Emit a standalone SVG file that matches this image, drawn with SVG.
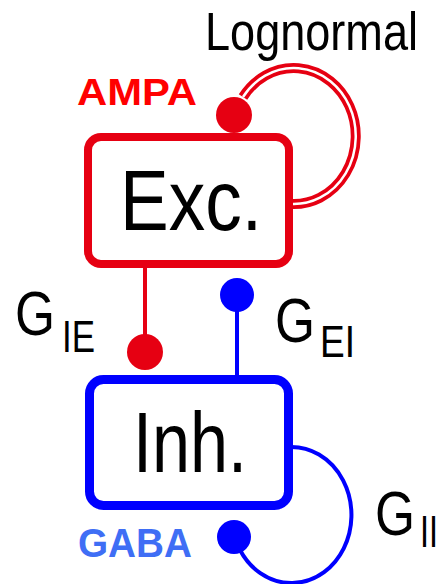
<svg xmlns="http://www.w3.org/2000/svg" width="441" height="584" viewBox="0 0 441 584">
<style>
.lbl{font-family:"Liberation Sans",Arial,sans-serif;fill:#000}
.bold{font-family:"Liberation Sans",Arial,sans-serif;font-weight:bold}
.red{fill:#e60012}
.blue{fill:#0000ff}
</style>
<rect width="441" height="584" fill="#fff"/>
<g id="connectors">
  <!-- Exc self loop (double line) -->
  <path d="M 291 204 A 62 68 0 1 0 243 97" fill="none" stroke="#e60012" stroke-width="10"/>
  <path d="M 291 204 A 62 68 0 1 0 243 97" fill="none" stroke="#fff" stroke-width="2.5"/>
  <circle class="red" cx="234" cy="115" r="18"/>
  <!-- Exc to Inh -->
  <line x1="145" y1="266" x2="145" y2="350" stroke="#e60012" stroke-width="4"/>
  <circle class="red" cx="145" cy="352" r="18"/>
  <!-- Inh to Exc -->
  <line x1="237" y1="300" x2="237" y2="378" stroke="#0000ff" stroke-width="4"/>
  <circle class="blue" cx="237" cy="295" r="17"/>
  <!-- Inh self loop -->
  <path d="M 291 447 A 60 68 0 1 1 240 550" fill="none" stroke="#0000ff" stroke-width="4"/>
  <circle class="blue" cx="234" cy="537" r="17"/>
</g>
<g id="exc">
  <rect x="88" y="137" width="201" height="127" rx="13" fill="#fff" stroke="#e60012" stroke-width="8"/>
  <text class="lbl" x="120" y="230" font-size="86" textLength="142" lengthAdjust="spacingAndGlyphs">Exc.</text>
</g>
<g id="inh">
  <rect x="89.5" y="379.5" width="199" height="126" rx="14" fill="#fff" stroke="#0000ff" stroke-width="9"/>
  <text class="lbl" x="133" y="472" font-size="86" textLength="114" lengthAdjust="spacingAndGlyphs">Inh.</text>
</g>
<g id="labels">
  <text class="lbl" x="205" y="50" font-size="53" textLength="213" lengthAdjust="spacingAndGlyphs">Lognormal</text>
  <text class="bold" x="77" y="105" font-size="37" fill="#ff0000" textLength="120" lengthAdjust="spacingAndGlyphs">AMPA</text>
  <text class="bold" x="78" y="557" font-size="40" fill="#3f6ef5" textLength="114" lengthAdjust="spacingAndGlyphs">GABA</text>
  <text class="lbl" x="15" y="335" font-size="63" textLength="40" lengthAdjust="spacingAndGlyphs">G</text>
  <text class="lbl" x="62" y="352" font-size="44" textLength="33" lengthAdjust="spacingAndGlyphs">IE</text>
  <text class="lbl" x="275" y="342" font-size="63" textLength="40" lengthAdjust="spacingAndGlyphs">G</text>
  <text class="lbl" x="320" y="357" font-size="44" textLength="35" lengthAdjust="spacingAndGlyphs">EI</text>
  <text class="lbl" x="375" y="535" font-size="63" textLength="40" lengthAdjust="spacingAndGlyphs">G</text>
  <text class="lbl" x="420" y="547" font-size="44" textLength="18" lengthAdjust="spacingAndGlyphs">II</text>
</g>
</svg>
